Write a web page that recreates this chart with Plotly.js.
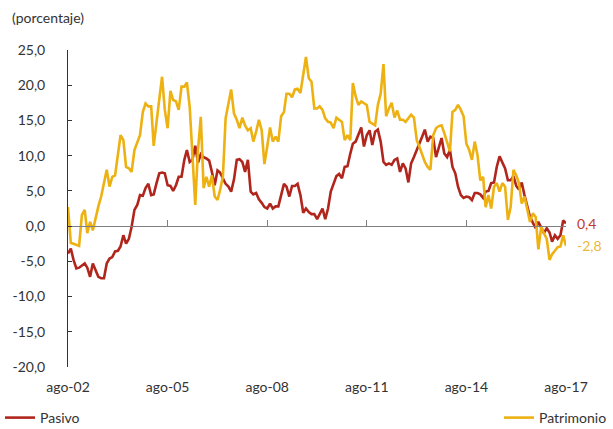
<!DOCTYPE html>
<html>
<head>
<meta charset="utf-8">
<script src="https://cdn.plot.ly/plotly-3.0.1.min.js"></script>
<style>html,body{margin:0;padding:0;background:#fff}#chart{width:613px;height:429px}</style>
</head>
<body>
<div id="chart"></div>
<script>
// Monthly series, ago-2002 .. ago-2017 (year-on-year change, %)
const startYear = 2002, startMonth = 8;
const pasivo = [
-3.9,-3.2,-4.8,-6.0,-5.9,-5.6,-5.3,-5.9,-7.2,-5.3,-6.3,-7.2,-7.4,-7.4,-5.3,-4.6,-4.4,-3.6,-3.5,-2.9,
-1.3,-2.5,-1.8,-0.1,2.3,3.0,4.4,4.3,5.4,6.0,4.4,4.5,6.1,7.5,7.6,7.5,5.8,5.7,5.0,5.8,
7.0,7.0,9.4,10.8,9.1,9.4,11.4,9.0,10.2,9.8,9.6,9.3,7.7,5.8,7.9,7.6,6.8,6.0,5.6,4.9,
6.6,9.4,9.5,9.1,7.7,9.4,4.9,4.5,4.7,3.8,3.3,2.7,2.5,3.2,2.5,2.8,2.8,4.4,6.0,5.6,
4.2,5.7,5.7,6.0,4.4,1.9,2.5,2.0,1.7,1.7,1.0,1.7,2.5,1.0,2.5,4.9,6.0,7.1,7.4,6.8,
8.4,8.5,10.3,11.7,12.0,12.9,14.0,11.3,12.9,13.6,11.5,13.4,13.7,12.0,9.1,8.7,8.9,8.7,9.4,9.6,
7.7,8.9,8.2,6.2,8.9,9.8,10.9,11.7,12.7,13.7,12.0,12.7,12.5,9.8,11.3,12.5,10.3,9.8,10.8,8.4,
7.5,5.6,4.4,4.0,4.2,4.1,3.7,4.7,4.7,4.5,4.0,4.9,5.0,6.1,6.2,8.4,9.9,8.9,8.2,6.5,
6.5,7.1,5.7,5.2,6.2,4.4,2.7,1.3,0.5,-0.3,0.6,-0.2,-1.0,-0.3,-0.9,-2.2,-1.3,-1.8,-1.3,0.8,
0.4
];
const patrimonio = [
2.7,-2.4,-2.5,-2.6,-2.8,1.6,2.3,-1.0,0.6,-0.6,1.3,2.8,4.2,6.2,8.0,5.6,7.0,7.2,10.0,12.9,
12.2,8.4,8.2,7.7,10.8,11.8,12.9,16.2,17.4,17.0,17.0,11.4,15.1,18.0,21.2,16.5,13.9,19.2,17.9,17.7,
16.5,19.8,19.8,20.4,16.9,10.8,3.0,10.8,15.5,5.4,7.0,5.6,7.2,4.2,3.7,5.1,7.0,15.3,17.4,19.4,
16.0,15.1,13.9,15.4,14.3,13.6,13.9,12.0,13.4,15.1,13.6,8.8,11.3,14.0,12.0,12.7,12.0,15.6,16.2,18.8,
18.8,18.3,19.4,19.5,18.9,21.7,24.0,21.0,20.5,16.7,16.7,17.0,16.5,15.3,14.8,14.7,13.9,15.4,15.1,14.8,
12.2,12.9,12.2,20.3,18.4,17.2,17.7,17.5,17.2,14.8,14.6,14.3,17.2,18.8,23.0,15.6,16.7,17.5,15.4,16.4,
15.1,15.1,14.8,15.4,15.8,15.4,12.2,11.3,10.3,9.1,8.4,8.0,12.9,13.9,14.2,14.3,13.2,11.7,10.6,16.2,
16.5,17.2,16.5,15.6,11.7,10.8,9.4,12.0,10.1,6.5,7.0,2.7,4.4,2.5,5.6,6.1,4.9,6.1,5.6,0.9,
2.7,8.0,7.2,6.1,3.2,4.2,2.5,0.6,1.8,1.3,-3.3,-0.1,-1.0,-1.8,-4.8,-4.0,-3.5,-3.0,-2.9,-1.3,
-2.8
];
const xTickVals = ['2002-08-01','2005-08-01','2008-08-01','2011-08-01','2014-08-01','2017-08-01'];
const xTickText = ['ago-02','ago-05','ago-08','ago-11','ago-14','ago-17'];
const yTickVals = [-20,-15,-10,-5,0,5,10,15,20,25];
const yTickText = ['-20,0','-15,0','-10,0','-5,0','0,0','5,0','10,0','15,0','20,0','25,0'];
const seriesNames = ['Pasivo','Patrimonio'];

const dates = [];
for (let i = 0; i < pasivo.length; i++) {
  const m = startMonth - 1 + i;
  const y = startYear + Math.floor(m / 12);
  const mm = (m % 12) + 1;
  dates.push(y + '-' + String(mm).padStart(2,'0') + '-01');
}

const RED = '#B0261C', GOLD = '#EDB111';
const FONT = 'Lato, "Open Sans", sans-serif';
const fmt = v => v.toFixed(1).replace('.', ',');
const yMin = -20, yMax = 25;

const traces = [
  {x: dates, y: pasivo, name: seriesNames[0], type: 'scatter', mode: 'lines',
   line: {color: RED, width: 2.6}, legend: 'legend', cliponaxis: false, hoverinfo: 'skip'},
  {x: dates, y: patrimonio, name: seriesNames[1], type: 'scatter', mode: 'lines',
   line: {color: GOLD, width: 2.6}, legend: 'legend2', cliponaxis: false, hoverinfo: 'skip'},
  {x: dates, y: pasivo, xaxis: 'x2', type: 'scatter', mode: 'lines',
   line: {color: 'rgba(0,0,0,0)', width: 0}, showlegend: false, hoverinfo: 'skip'}
];

const xr = [xTickVals[0], xTickVals[xTickVals.length-1]];
const legendFont = {family: FONT, size: 14, color: '#333'};
const layout = {
  width: 613, height: 429,
  margin: {l: 68, r: 47, t: 50, b: 62},
  paper_bgcolor: '#fff', plot_bgcolor: '#fff',
  font: {family: FONT, size: 14, color: '#333'},
  separators: ',.',
  title: {text: '(porcentaje)', x: 12/613, xref: 'container', xanchor: 'left',
          y: 1 - 18/429, yref: 'container', yanchor: 'middle',
          font: {family: FONT, size: 14, color: '#333'}},
  xaxis: {type: 'date', range: xr, anchor: 'free', position: (0 - yMin)/(yMax - yMin),
          showline: true, linecolor: '#7f7f7f', linewidth: 1,
          ticks: 'inside', ticklen: 6, tickcolor: '#7f7f7f', tickwidth: 1,
          tickmode: 'array', tickvals: xTickVals, showticklabels: false,
          showgrid: false, zeroline: false, fixedrange: true, automargin: false},
  xaxis2: {type: 'date', range: xr, overlaying: 'x', anchor: 'y', side: 'bottom',
           showline: false, ticks: '', tickmode: 'array', tickvals: xTickVals, ticktext: xTickText,
           ticklabelstandoff: 10, showgrid: false, zeroline: false, automargin: false,
           tickfont: {family: FONT, size: 14, color: '#333'}},
  yaxis: {range: [yMin, yMax], tickmode: 'array', tickvals: yTickVals, ticktext: yTickText,
          showline: true, linecolor: '#333', linewidth: 1,
          ticks: 'inside', ticklen: 4, tickcolor: '#333', automargin: false,
          ticklabelstandoff: 19, showgrid: false, zeroline: false,
          tickfont: {family: FONT, size: 14, color: '#333'}},
  legend: {xref: 'container', yref: 'container', x: -0.013, xanchor: 'left',
           y: 1 - 418/429, yanchor: 'middle',
           orientation: 'h', bgcolor: 'rgba(0,0,0,0)', borderwidth: 0,
           font: legendFont, itemwidth: 30},
  legend2: {xref: 'container', yref: 'container', x: 612/613, xanchor: 'right',
           y: 1 - 418/429, yanchor: 'middle',
           orientation: 'h', bgcolor: 'rgba(0,0,0,0)', borderwidth: 0,
           font: legendFont, itemwidth: 30},
  showlegend: true,
  annotations: [
    {x: dates[dates.length-1], y: pasivo[pasivo.length-1], xref: 'x', yref: 'y',
     text: fmt(pasivo[pasivo.length-1]), showarrow: false, xanchor: 'left', yanchor: 'middle',
     xshift: 9, font: {family: FONT, size: 14, color: '#C0392B'}},
    {x: dates[dates.length-1], y: patrimonio[patrimonio.length-1], xref: 'x', yref: 'y',
     text: fmt(patrimonio[patrimonio.length-1]), showarrow: false, xanchor: 'left', yanchor: 'middle',
     xshift: 9, font: {family: FONT, size: 14, color: '#EDB83A'}}
  ]
};

Plotly.newPlot('chart', traces, layout, {displayModeBar: false, staticPlot: true});
</script>
</body>
</html>
